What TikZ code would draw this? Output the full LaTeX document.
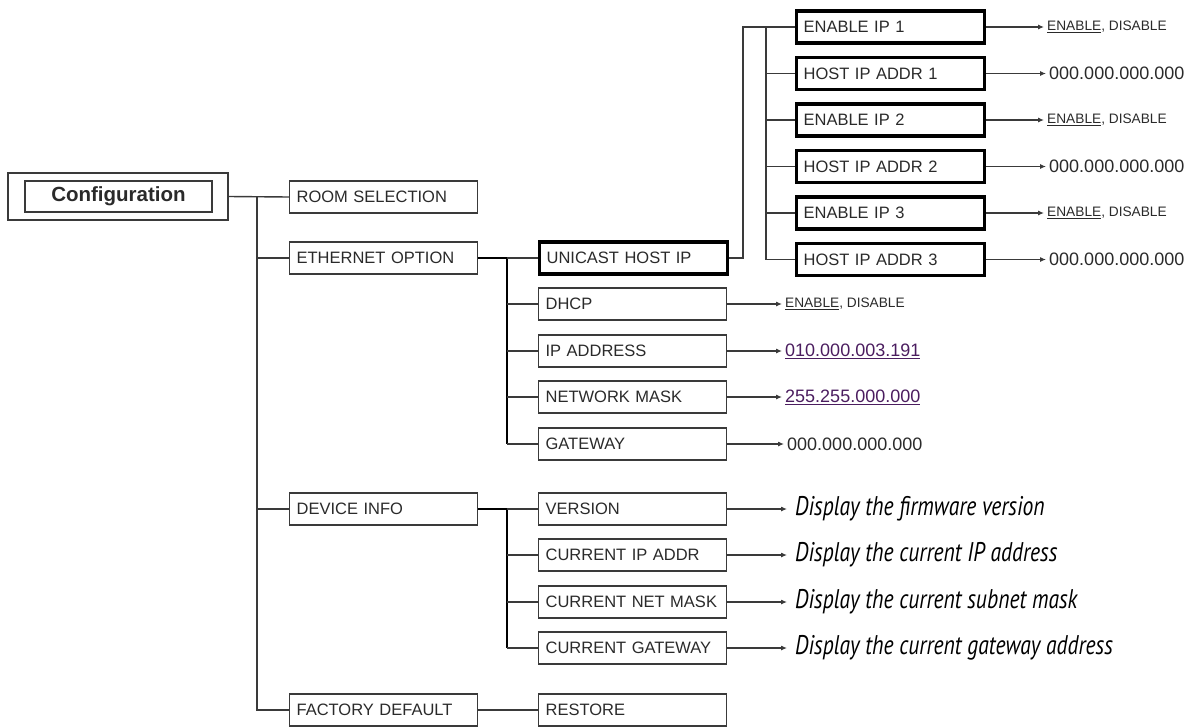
\documentclass[tikz,border=0pt]{standalone}
\usepackage{fontspec}
\setmainfont{Liberation Sans}
\newfontfamily\notefont[FakeStretch=0.8]{PT Sans}
\usetikzlibrary{arrows.meta}

\definecolor{linegray}{HTML}{3A3A3A}
\definecolor{textgray}{HTML}{2A2A2A}
\definecolor{linkpurple}{HTML}{4B1D5F}

\begin{document}
\begin{tikzpicture}[x=1pt, y=-1pt,
    menu/.style={draw=linegray, line width=1.2pt, text=textgray,
        font=\fontsize{16.5}{18}\selectfont, anchor=west,
        minimum height=32pt, text width=#1, inner xsep=7pt, align=left},
    menu/.default=174pt,
    hostmenu/.style={menu, draw=black, line width=3.2pt},
    branch/.style={draw=linegray, line width=1.4pt},
    feed/.style={draw=black, line width=2pt},
    arr/.style={draw=linegray, line width=1.1pt, -{Latex[length=6pt,width=5pt]}},
    val/.style={anchor=west, inner sep=3pt, text=textgray, font=\fontsize{18}{20}\selectfont},
    opt/.style={anchor=west, inner sep=3pt, text=textgray, font=\fontsize{13.7}{16}\selectfont},
    note/.style={anchor=west, inner xsep=8pt, font=\notefont\itshape\fontsize{27}{30}\selectfont}
]
\useasboundingbox (0,0) rectangle (1191,726);

% root
\node[draw=linegray, line width=1.3pt, minimum width=220pt, minimum height=47pt] (confbox) at (118,196.5) {};
\node[draw=linegray, line width=1.3pt, minimum width=187pt, minimum height=31pt, text=textgray,
    font=\bfseries\fontsize{20.5}{23}\selectfont] (conf) at (118.5,196.5) {Configuration};

% first level
\node[menu] (room) at (289,197) {ROOM SELECTION};
\node[menu] (ether) at (289,258) {ETHERNET OPTION};
\node[menu] (devinfo) at (289,509) {DEVICE INFO};
\node[menu] (factory) at (289,710) {FACTORY DEFAULT};

% ethernet option
\node[hostmenu] (unicast) at (538,258) {UNICAST HOST IP};
\node[menu] (dhcp) at (538,304) {DHCP};
\node[menu] (ipaddr) at (538,351) {IP ADDRESS};
\node[menu] (netmask) at (538,397) {NETWORK MASK};
\node[menu] (gateway) at (538,444) {GATEWAY};

% device info
\node[menu] (version) at (538,509) {VERSION};
\node[menu] (curip) at (538,555) {CURRENT IP ADDR};
\node[menu] (curmask) at (538,602) {CURRENT NET MASK};
\node[menu] (curgw) at (538,648) {CURRENT GATEWAY};

\node[menu] (restore) at (538,710) {RESTORE};

% unicast host ip
\node[hostmenu] (en1) at (795,27) {ENABLE IP 1};
\node[hostmenu] (host1) at (795,73.5) {HOST IP ADDR 1};
\node[hostmenu] (en2) at (795,120) {ENABLE IP 2};
\node[hostmenu] (host2) at (795,166.5) {HOST IP ADDR 2};
\node[hostmenu] (en3) at (795,213) {ENABLE IP 3};
\node[hostmenu] (host3) at (795,259.5) {HOST IP ADDR 3};

% trunks
\coordinate (trunk) at (257,197);
\coordinate (ethtrunk) at (507,258);
\coordinate (devtrunk) at (507,509);
\coordinate (uctrunk) at (743,258);
\coordinate (iptrunk) at (766,27);

\draw[branch] (confbox.east) -- (room.west);
\foreach \n in {ether,devinfo,factory}
    \draw[branch] (trunk) |- (\n.west);

\draw[feed] (ether.east) -- (ethtrunk) -- (ethtrunk |- gateway.west);
\draw[branch] (ethtrunk) -- (unicast.west);
\foreach \n in {dhcp,ipaddr,netmask,gateway}
    \draw[branch] (ethtrunk |- \n.west) -- (\n.west);

\draw[feed] (devinfo.east) -- (devtrunk) -- (devtrunk |- curgw.west);
\foreach \n in {version,curip,curmask,curgw}
    \draw[branch] (devtrunk |- \n.west) -- (\n.west);

\draw[branch] (factory.east) -- (restore.west);

\draw[branch] (unicast.east) -- (uctrunk) |- (en1.west);
\foreach \n in {host1,en2,host2,en3,host3}
    \draw[branch] (iptrunk) |- (\n.west);

% values
\foreach \n/\y in {en1/27, en2/120, en3/213} {
    \node[opt] (\n-opt) at (1044,\y) {\underline{ENABLE}, DISABLE};
    \draw[arr] (\n.east) -- (\n-opt.west);
}
\foreach \n/\y in {host1/73.5, host2/166.5, host3/259.5} {
    \node[val] (\n-val) at (1046,\y) {000.000.000.000};
    \draw[arr] (\n.east) -- (\n-val.west);
}

\node[opt] (dhcp-opt) at (782,304) {\underline{ENABLE}, DISABLE};
\node[val] (ipaddr-val) at (782,351) {\textcolor{linkpurple}{\underline{010.000.003.191}}};
\node[val] (netmask-val) at (782,397) {\textcolor{linkpurple}{\underline{255.255.000.000}}};
\node[val] (gateway-val) at (784,444) {000.000.000.000};
\foreach \n/\m in {dhcp/dhcp-opt, ipaddr/ipaddr-val, netmask/netmask-val, gateway/gateway-val}
    \draw[arr] (\n.east) -- (\m.west);

\node[note] (version-note) at (787,509) {Display the firmware version};
\node[note] (curip-note) at (787,555) {Display the current IP address};
\node[note] (curmask-note) at (787,602) {Display the current subnet mask};
\node[note] (curgw-note) at (787,648) {Display the current gateway address};
\foreach \n in {version,curip,curmask,curgw}
    \draw[arr] (\n.east) -- (\n-note.west);

\end{tikzpicture}
\end{document}
